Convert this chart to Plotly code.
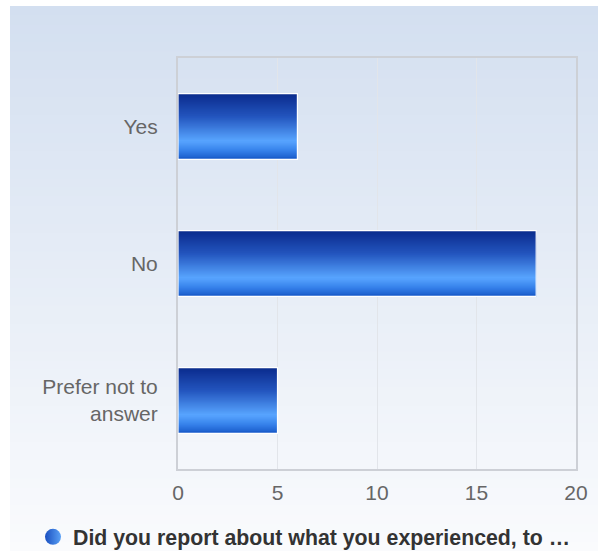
import plotly.graph_objects as go

categories = ["Yes", "No", "Prefer not to<br>answer"]
counts = [6, 18, 5]
x_ticks = [0, 5, 10, 15, 20]
series_name = "Did you report about what you experienced, to …"

W, H = 598, 551
L, R, T, B = 178, 576, 58, 469  # plot area in px


def lerp(c1, c2, t):
    return tuple(round(a + (b - a) * t) for a, b in zip(c1, c2))


def grad(stops, t):
    for (t0, c0), (t1, c1) in zip(stops, stops[1:]):
        if t0 <= t <= t1:
            return lerp(c0, c1, (t - t0) / (t1 - t0) if t1 > t0 else 0)
    return stops[-1][1]


bar_stops = [(0.0, (10, 42, 140)), (0.35, (35, 85, 190)), (0.72, (88, 165, 255)),
             (0.86, (55, 130, 235)), (1.0, (22, 88, 200))]

fig = go.Figure()

bar_w = 0.48
n_bands = 33
bw = bar_w / n_bands
for i in range(n_bands):
    c = grad(bar_stops, (i + 0.5) / n_bands)
    fig.add_trace(go.Bar(
        x=counts, y=categories, orientation="h",
        width=bar_w - i * bw, offset=-bar_w / 2 + i * bw,
        marker=dict(color="rgb(%d,%d,%d)" % c, line=dict(width=0)),
        showlegend=False, hoverinfo="skip"))

# white outline
fig.add_trace(go.Bar(
    x=counts, y=categories, orientation="h", width=bar_w, offset=-bar_w / 2,
    marker=dict(color="rgba(0,0,0,0)", line=dict(color="white", width=1.2)),
    showlegend=False, hoverinfo="skip"))

# legend entry
fig.add_trace(go.Scatter(
    x=[None], y=[None], mode="markers", name=series_name,
    marker=dict(symbol="circle", size=20, color="#1a4fc0",
                gradient=dict(type="horizontal", color="#5aa0f5")),
    showlegend=True))

pw, ph = R - L, B - T
def px2x(px):
    return (px - L) / pw
def py2y(py):
    return (B - py) / ph

# background gradient
top_c, bot_c = (211, 223, 240), (250, 251, 253)
y0px, y1px = 6, H
nb = 60
shapes = []
for i in range(nb):
    a = y0px + (y1px - y0px) * i / nb
    b = y0px + (y1px - y0px) * (i + 1) / nb
    c = lerp(top_c, bot_c, (i + 0.5) / nb)
    shapes.append(dict(type="rect", xref="paper", yref="paper", layer="below",
                       x0=px2x(10), x1=px2x(W + 2), y0=py2y(b) - 0.002, y1=py2y(a),
                       fillcolor="rgb(%d,%d,%d)" % c, line=dict(width=0)))

fig.update_layout(
    width=W, height=H,
    margin=dict(l=L, r=W - R, t=T, b=H - B, autoexpand=False),
    paper_bgcolor="white", plot_bgcolor="rgba(0,0,0,0)",
    barmode="overlay",
    shapes=shapes,
    hovermode=False,
    font=dict(family="Liberation Sans, Arial, sans-serif", color="#666666", size=21),
    legend=dict(orientation="h", x=px2x(73 - 40), xanchor="left", y=py2y(537), yanchor="middle",
                font=dict(size=21.3, color="#333333", family="Liberation Sans, Arial, sans-serif",
                          weight="bold"),
                bgcolor="rgba(0,0,0,0)"),
    xaxis=dict(range=[0, 20], tickvals=x_ticks, showgrid=True, gridcolor="#e2e5ea", gridwidth=1,
               showline=True, mirror=True, linecolor="#cdd0d6", linewidth=2,
               zeroline=False, ticks="outside", ticklen=4, tickcolor="rgba(0,0,0,0)",
               tickfont=dict(size=21, color="#666666"), fixedrange=True),
    yaxis=dict(categoryorder="array", categoryarray=categories, autorange="reversed",
               showline=True, mirror=True, linecolor="#cdd0d6", linewidth=2,
               showgrid=False, ticks="outside", ticklen=14, tickcolor="rgba(0,0,0,0)",
               tickfont=dict(size=21, color="#666666"), fixedrange=True),
)

fig.write_html(
    "out.html",
    config={"displayModeBar": False},
    post_script="document.body.style.margin='0';document.body.style.overflow='hidden';",
)
